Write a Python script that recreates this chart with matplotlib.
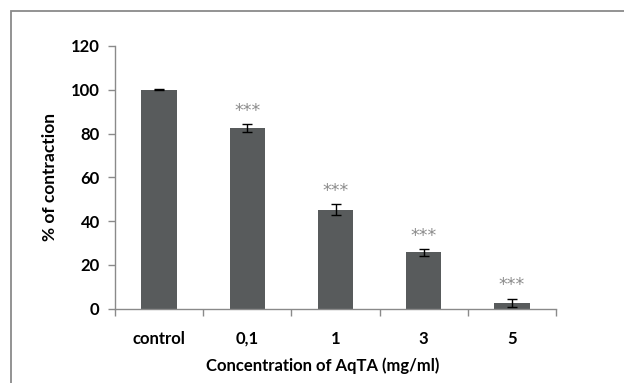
import matplotlib
matplotlib.use("Agg")
import matplotlib.pyplot as plt
from matplotlib.patches import Rectangle

# Contraction response to AqTA concentration
categories = ["control", "0,1", "1", "3", "5"]
contraction = [100.0, 82.5, 45.3, 25.7, 2.6]
sem = [0.3, 1.9, 2.6, 1.7, 2.0]
significance = ["", "***", "***", "***", "***"]
y_ticks = [0, 20, 40, 60, 80, 100, 120]

plt.rcParams["font.family"] = ["Lato", "DejaVu Sans"]

fig = plt.figure(figsize=(6.24, 3.83), dpi=100)
fig.patch.set_facecolor("white")

# outer frame around the chart area
fig.add_artist(Rectangle((11 / 624, -0.1), 1.2, (383 - 11) / 383 + 0.1,
                         transform=fig.transFigure, fill=False,
                         edgecolor="#8a8a8a", linewidth=1.3))

ax = fig.add_axes([115 / 624, (383 - 308.7) / 383, (556 - 115) / 624, (308.7 - 46) / 383])

x = list(range(len(categories)))
bar_color = "#585b5c"
ax.bar(x, contraction, width=0.4, color=bar_color, zorder=2)
ax.errorbar(x, contraction, yerr=sem, fmt="none", ecolor="black",
            elinewidth=1.0, capsize=3.5, capthick=1.0, zorder=3)

for xi, v, e, s in zip(x, contraction, sem, significance):
    if s:
        ax.annotate(s, (xi, v + e), xytext=(0, 3), textcoords="offset points",
                    ha="center", va="bottom", fontsize=12.5, color="#8c8c8c",
                    family="DejaVu Sans")

ax.set_xlim(-0.5, len(categories) - 0.5)
ax.set_ylim(0, 120)
ax.set_yticks(y_ticks)
ax.set_yticklabels([str(t) for t in y_ticks], fontsize=12, fontweight="bold")

ax.set_xticks(x)
ax.set_xticklabels(categories, fontsize=12, fontweight="bold")
ax.tick_params(axis="x", length=0, pad=16)
# category-boundary ticks on the x axis
ax.set_xticks([i - 0.5 for i in range(len(categories) + 1)], minor=True)
ax.tick_params(axis="x", which="minor", length=5, color="#8a8a8a", width=1)
ax.tick_params(axis="y", length=5, color="#8a8a8a", width=1, pad=6)

for side in ["top", "right"]:
    ax.spines[side].set_visible(False)
for side in ["left", "bottom"]:
    ax.spines[side].set_color("#8a8a8a")
    ax.spines[side].set_linewidth(1)

ax.set_ylabel("% of contraction", fontsize=12.5, fontweight="bold", labelpad=9)
ax.set_xlabel("Concentration of AqTA (mg/ml)", fontsize=12, fontweight="bold")
ax.xaxis.set_label_coords(0.472, -0.185)

fig.savefig("out.png", dpi=100, facecolor="white")
